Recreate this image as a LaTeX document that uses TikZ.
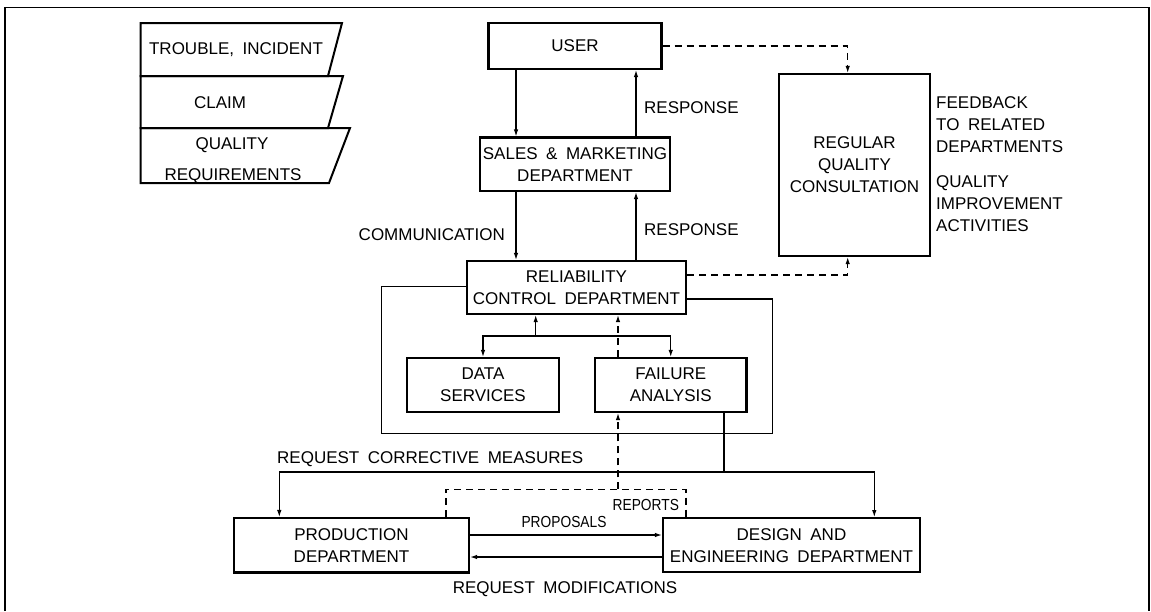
\documentclass[tikz,border=0pt]{standalone}
\usepackage{fontspec}
\setmainfont{Liberation Sans}[WordSpace=1.8]
\newfontfamily\condfont{Liberation Sans}[FakeStretch=0.86,WordSpace=1.5]
\usetikzlibrary{arrows.meta}
\begin{document}
\begin{tikzpicture}[x=1pt,y=-1pt,
  box/.style={draw,line width=2.2pt,inner sep=0pt,align=center,font=\fontsize{17}{22}\selectfont},
  lbl/.style={inner sep=0pt,align=left,font=\fontsize{17}{22}\selectfont},
  clbl/.style={inner sep=0pt,align=center,font=\fontsize{17}{22}\selectfont},
  small/.style={inner sep=0pt,font=\condfont\fontsize{16}{20}\selectfont},
  conn/.style={line width=1.1pt},
  tip/.style={-{Latex[length=7pt,width=4.5pt]}},
  arr/.style={conn,tip},
  dsh/.style={conn,dash pattern=on 7pt off 5pt},
  para/.style={line width=2pt,line join=miter}]
\useasboundingbox (0,0) rectangle (1151,611);
% outer frame (open at bottom)
\draw[line width=1.5pt] (5,611) -- (5,7.5) -- (1149,7.5) -- (1149,611);

% legend parallelograms
\draw[para] (140.7,23) -- (342,23) -- (328,76) -- (140.7,76) -- cycle;
\draw[para] (140.7,76) -- (343,76) -- (328,128) -- (140.7,128) -- cycle;
\draw[para] (140.7,128) -- (350,128) -- (329,183) -- (140.7,183) -- cycle;
\node[clbl] (ti) at (236,50) {TROUBLE, INCIDENT};
\node[clbl] (cl) at (220,103) {CLAIM};
\node[clbl] (qr1) at (232,145) {QUALITY};
\node[clbl] (qr2) at (233,176) {REQUIREMENTS};

% boxes
\node[box,minimum width=173pt,minimum height=46pt] (user) at (575,46) {USER};
\node[box,minimum width=190pt,minimum height=53.5pt] (sales) at (575,164.3) {SALES \& MARKETING\\DEPARTMENT};
\node[box,minimum width=219pt,minimum height=53pt] (rcd) at (576.5,287.5) {RELIABILITY\\CONTROL DEPARTMENT};
\node[box,minimum width=152pt,minimum height=54pt] (ds) at (483,385) {DATA\\SERVICES};
\node[box,minimum width=151.5pt,minimum height=54pt] (fa) at (670.75,385) {FAILURE\\ANALYSIS};
\node[box,minimum width=151pt,minimum height=182pt] (rqc) at (854.5,165) {REGULAR\\QUALITY\\CONSULTATION};
\node[box,minimum width=235pt,minimum height=54.5pt] (prod) at (351.5,545.3) {PRODUCTION\\DEPARTMENT};
\node[box,minimum width=257pt,minimum height=54pt] (design) at (791.5,545.2) {DESIGN AND\\ENGINEERING DEPARTMENT};

% helper coordinates
\coordinate (xl) at (516,0);
\coordinate (xr) at (636,0);
\coordinate (xq) at (847.7,0);
\coordinate (xd) at (618,0);
\coordinate (h275) at (0,275);
\coordinate (h287) at (0,286.7);
\coordinate (h299) at (0,299);
\coordinate (h535) at (0,535);
\coordinate (h557) at (0,557);

% user / sales / rcd
\draw[arr] (user.south -| xl) -- (sales.north -| xl);
\draw[arr] (sales.south -| xl) -- (rcd.north -| xl);
\draw[arr] (sales.north -| xr) -- (user.south -| xr);
\draw[arr] (rcd.north -| xr) -- (sales.south -| xr);
\node[lbl,anchor=west] (resp1) at (644,107.7) {RESPONSE};
\node[lbl,anchor=west] (resp2) at (644,230) {RESPONSE};
\node[lbl,anchor=east] (comm) at (505,235) {COMMUNICATION};

% to regular quality consultation
\draw[dsh,tip] (user.east) -- (user.east -| xq) -- (rqc.north -| xq);
\draw[dsh,tip] (rcd.east |- h275) -- (xq |- h275) -- (rqc.south -| xq);
\node[lbl,anchor=west] (fb) at (936,125) {FEEDBACK\\TO RELATED\\DEPARTMENTS};
\node[lbl,anchor=west] (qia) at (936,203.5) {QUALITY\\IMPROVEMENT\\ACTIVITIES};

% enclosure around reliability group
\coordinate (e1) at (381.7,286.7);
\coordinate (e2) at (381.7,433.5);
\coordinate (e3) at (772.5,433.5);
\coordinate (e4) at (772.5,299);
\draw[conn] (rcd.west |- h287) -- (e1) -- (e2) -- (e3) -- (e4) -- (rcd.east |- h299);

% branch to data services / failure analysis
\coordinate (bj) at (535.7,336);
\draw[arr] (bj) -- (rcd.south -| bj);
\draw[arr] (bj) -| (ds.north);
\draw[arr] (bj) -| (fa.north);

% dashed reports path
\draw[dsh,tip] (fa.north -| xd) -- (rcd.south -| xd);
\coordinate (rj) at (618,489.3);
\draw[dsh,tip] (rj) -- (fa.south -| xd);
\coordinate (rl) at (446,489.3);
\coordinate (rr) at (686,489.3);
\draw[dsh] (prod.north -| rl) -- (rl) -- (rr) -- (design.north -| rr);
\node[small,anchor=west] (rep) at (612.5,505) {REPORTS};

% request corrective measures
\coordinate (cj) at (724,472);
\coordinate (cl) at (279.3,472);
\coordinate (cr) at (874.3,472);
\draw[conn] (fa.south -| cj) -- (cj);
\draw[arr] (cj) -- (cl) -- (prod.north -| cl);
\draw[arr] (cj) -- (cr) -- (design.north -| cr);
\node[lbl,anchor=west] (rcm) at (277,459.3) {REQUEST CORRECTIVE MEASURES};

% proposals / request modifications
\draw[arr] (prod.east |- h535) -- (design.west |- h535);
\draw[arr] (design.west |- h557) -- (prod.east |- h557);
\node[small] (prop) at (564,521.7) {PROPOSALS};
\node[clbl] (rmod) at (565,589.3) {REQUEST MODIFICATIONS};
\end{tikzpicture}
\end{document}
